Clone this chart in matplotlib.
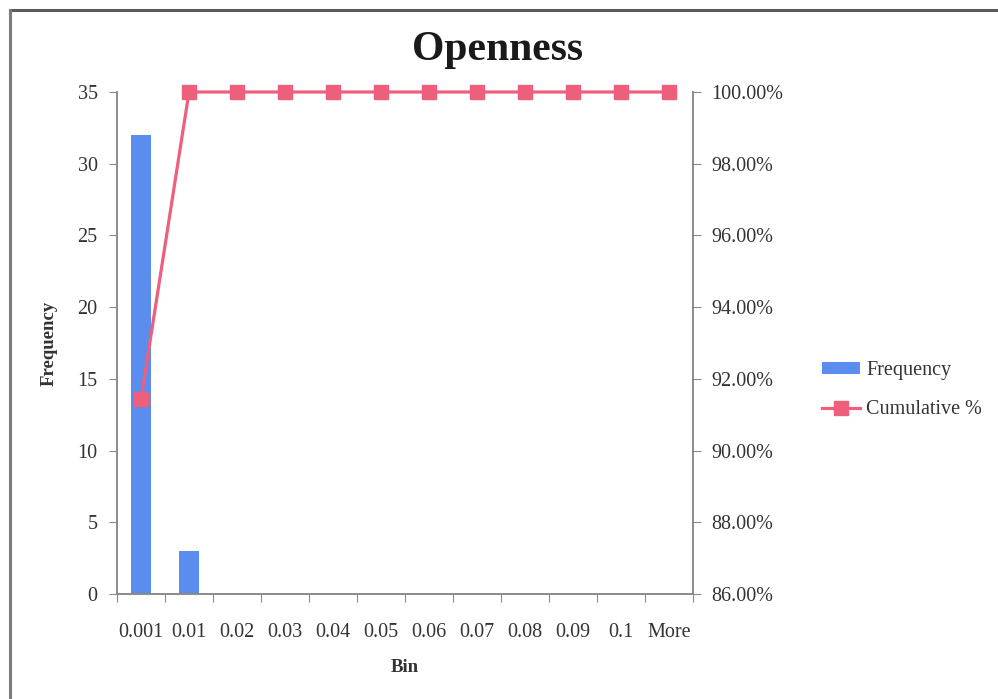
import matplotlib.pyplot as plt
import numpy as np
from matplotlib.lines import Line2D
from matplotlib.ticker import FuncFormatter, FixedLocator

plt.rcParams["font.family"] = ["Liberation Serif", "DejaVu Serif"]

bins = ["0.001", "0.01", "0.02", "0.03", "0.04", "0.05", "0.06", "0.07", "0.08", "0.09", "0.1", "More"]
frequency = [32, 3, 0, 0, 0, 0, 0, 0, 0, 0, 0, 0]
cumulative_pct = [91.43, 100, 100, 100, 100, 100, 100, 100, 100, 100, 100, 100]

BAR_COLOR = "#5B8DEF"
LINE_COLOR = "#EE5F7C"
AXIS_COLOR = "#8a8a8a"
TEXT_COLOR = "#333333"

fig = plt.figure(figsize=(9.98, 6.99), dpi=100)
ax = fig.add_axes([117 / 998, 1 - 594 / 699, (693 - 117) / 998, (594 - 92) / 699])
ax2 = ax.twinx()

x = np.arange(len(bins))
bars = ax.bar(x, frequency, width=0.4, color=BAR_COLOR, zorder=2, label="Frequency")
line, = ax2.plot(x, cumulative_pct, color=LINE_COLOR, lw=2.3, marker="s", ms=9.5,
                 mec=LINE_COLOR, mfc=LINE_COLOR, zorder=3, clip_on=False, label="Cumulative %")

ax.set_xlim(-0.5, len(bins) - 0.5)
ax.set_ylim(0, 35)
ax.set_yticks(range(0, 36, 5))
ax2.set_ylim(86, 100)
ax2.set_yticks(range(86, 101, 2))
ax2.yaxis.set_major_formatter(FuncFormatter(lambda v, p: f"{v:.2f}%"))

# category boundaries get tick marks, labels sit at centres
ax.xaxis.set_major_locator(FixedLocator(np.arange(-0.5, len(bins), 1.0)))
ax.xaxis.set_minor_locator(FixedLocator(x))
ax.set_xticklabels([""] * (len(bins) + 1))
ax.set_xticklabels(bins, minor=True)
ax.tick_params(axis="x", which="minor", length=0, pad=21, labelsize=14.5, colors=TEXT_COLOR)
ax.tick_params(axis="x", which="major", length=6, color=AXIS_COLOR, direction="out")
ax.tick_params(axis="y", length=6, color=AXIS_COLOR, labelsize=14.5, labelcolor=TEXT_COLOR, pad=8)
ax2.tick_params(axis="y", length=6, color=AXIS_COLOR, labelsize=14.5, labelcolor=TEXT_COLOR, pad=7)

for a in (ax, ax2):
    a.spines["top"].set_visible(False)
    for s in ("left", "right", "bottom"):
        a.spines[s].set_color(AXIS_COLOR)
        a.spines[s].set_linewidth(1.2)

ax.set_ylabel("Frequency", fontsize=13.5, fontweight="bold", color=TEXT_COLOR, labelpad=14)
ax.set_xlabel("Bin", fontsize=13.5, fontweight="bold", color=TEXT_COLOR, labelpad=12)
fig.text(0.4985, 1 - 50 / 699, "Openness", ha="center", va="center",
         fontsize=30, fontweight="bold", color="#1a1a1a")

fig.legend(handles=[bars, line], loc="center left", bbox_to_anchor=(822 / 998, 1 - 390 / 699),
           frameon=False, borderpad=0, borderaxespad=0, fontsize=14.5, handlelength=1.9,
           handleheight=0.5, labelspacing=1.0, handletextpad=0.3, labelcolor=TEXT_COLOR)

# scanned chart frame (top and left edges visible)
fig.add_artist(Line2D([10 / 998, 1.0], [1 - 10 / 699] * 2, transform=fig.transFigure,
                      color="#5a5a5a", lw=2.2))
fig.add_artist(Line2D([10 / 998] * 2, [0.0, 1 - 10 / 699], transform=fig.transFigure,
                      color="#7a7a7a", lw=2.2))

fig.savefig("out.png", dpi=100)
